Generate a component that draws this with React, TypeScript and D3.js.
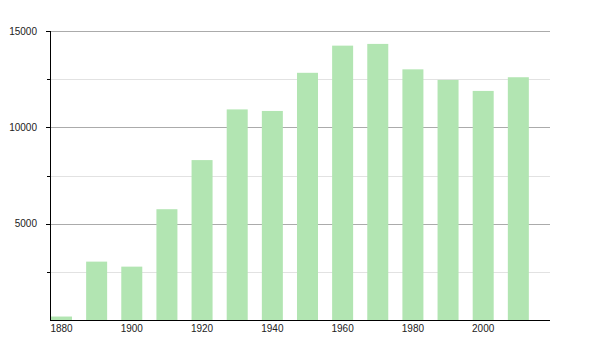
import React from "react";
import * as d3 from "d3";

const years = [1880, 1890, 1900, 1910, 1920, 1930, 1940, 1950, 1960, 1970, 1980, 1990, 2000, 2010];
const population = [180, 3030, 2770, 5750, 8300, 10930, 10850, 12830, 14240, 14330, 13010, 12460, 11890, 12600];
const yMajorTicks = [5000, 10000, 15000];
const yMinorTicks = [2500, 7500, 12500];
const xTickYears = [1880, 1900, 1920, 1940, 1960, 1980, 2000];

const W = 600;
const H = 350;
const left = 50;
const right = 550;
const top = 31;
const bottom = 320;
const barW = 21;

export default function App() {
  const x = d3.scaleLinear().domain([1880, 2022]).range([left + 1, right]);
  const y = d3.scaleLinear().domain([0, 15000]).range([bottom, top]);
  const font = "'Liberation Sans', Arial, Helvetica, sans-serif";
  return (
    <svg width={W} height={H} style={{ position: "absolute", left: 0, top: 0 }} xmlns="http://www.w3.org/2000/svg">
      <rect x={0} y={0} width={W} height={H} fill="#ffffff" />
      {yMinorTicks.map((t) => (
        <g key={"mi" + t}>
          <line x1={left} x2={right} y1={Math.round(y(t)) + 0.5} y2={Math.round(y(t)) + 0.5} stroke="#e2e2e2" strokeWidth={1} />
          <line x1={left - 3} x2={left} y1={Math.round(y(t)) + 0.5} y2={Math.round(y(t)) + 0.5} stroke="#000" strokeWidth={1} />
        </g>
      ))}
      {yMajorTicks.map((t) => (
        <g key={"ma" + t}>
          <line x1={left} x2={right} y1={Math.round(y(t)) + 0.5} y2={Math.round(y(t)) + 0.5} stroke="#ababab" strokeWidth={1} />
          <line x1={left - 4} x2={left} y1={Math.round(y(t)) + 0.5} y2={Math.round(y(t)) + 0.5} stroke="#000" strokeWidth={1} />
          <text x={37} y={y(t)} dy="0.35em" textAnchor="end" fontFamily={font} fontSize={10} fill="#222">
            {t}
          </text>
        </g>
      ))}
      {years.map((yr, i) => (
        <rect
          key={yr}
          x={x(yr)}
          y={y(population[i])}
          width={barW}
          height={bottom - y(population[i])}
          fill="#b2e5b2"
        />
      ))}
      <line x1={left + 0.5} x2={left + 0.5} y1={top} y2={bottom} stroke="#000" strokeWidth={1} />
      <line x1={left} x2={right} y1={bottom + 0.5} y2={bottom + 0.5} stroke="#000" strokeWidth={1} />
      {xTickYears.map((yr) => (
        <text key={"xl" + yr} x={x(yr) + barW / 2} y={332} textAnchor="middle" fontFamily={font} fontSize={10} fill="#222">
          {yr}
        </text>
      ))}
    </svg>
  );
}
